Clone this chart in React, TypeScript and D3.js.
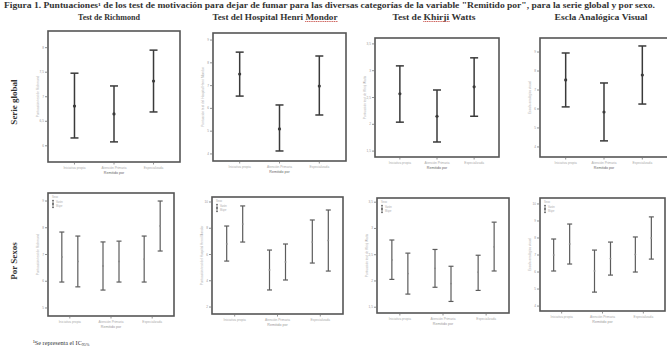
import React, { useLayoutEffect, useRef, useState } from "react";
import * as d3 from "d3";

// Categorías de la variable "Remitido por" y de sexo
const categorias = ["Iniciativa propia", "Atención Primaria", "Especializada"];
const sexos = ["Varón", "Mujer"];

// IC95% por categoría: [límite inferior, media, límite superior]
const richmondGlobal = [[6.16, 6.81, 7.48], [6.08, 6.65, 7.22], [6.69, 7.32, 7.95]];
const mondorGlobal = [[6.54, 7.51, 8.47], [4.13, 5.1, 6.15], [5.71, 6.98, 8.3]];
const khirjiGlobal = [[2.04, 2.57, 3.09], [1.67, 2.15, 2.64], [2.15, 2.7, 3.24]];
const eavGlobal = [[6.11, 7.53, 8.95], [4.32, 5.84, 7.37], [6.26, 7.79, 9.32]];

const richmondVarones = [[5.97, 6.91, 7.84], [5.67, 6.57, 7.47], [5.97, 6.83, 7.69]];
const richmondMujeres = [[5.79, 6.74, 7.69], [5.97, 6.74, 7.5], [7.13, 8.07, 9.0]];
const mondorVarones = [[5.5, 6.8, 8.17], [3.3, 4.82, 6.34], [5.35, 6.95, 8.63]];
const mondorMujeres = [[6.95, 8.32, 9.7], [4.06, 5.43, 6.8], [4.74, 7.07, 9.39]];
const khirjiVarones = [[2.03, 2.4, 2.78], [1.88, 2.24, 2.6], [1.82, 2.17, 2.49]];
const khirjiMujeres = [[1.75, 2.14, 2.53], [1.61, 1.95, 2.28], [2.19, 2.65, 3.12]];
const eavVarones = [[6.06, 7.0, 7.94], [4.82, 6.06, 7.29], [6.0, 7.03, 8.06]];
const eavMujeres = [[6.47, 7.65, 8.82], [5.82, 6.79, 7.76], [6.76, 8.0, 9.24]];

// Dominio y marcas del eje Y de cada gráfico
const richmondDominio = [5.67, 8.34];
const richmondTicks = [6, 6.5, 7, 7.5, 8];
const mondorDominio = [3.69, 9.31];
const mondorTicks = [4, 5, 6, 7, 8, 9];
const khirjiDominio = [1.39, 3.61];
const khirjiTicks = [1.5, 2, 2.5, 3, 3.5];
const eavDominio = [3.47, 9.74];
const eavTicks = [4, 5, 6, 7, 8, 9];

const richmondSexoDominio = [4.7, 9.3];
const richmondSexoTicks = [5, 6, 7, 8, 9];
const mondorSexoDominio = [1.47, 10.38];
const mondorSexoTicks = [2, 4, 6, 8, 10];
const khirjiSexoDominio = [1.39, 3.58];
const khirjiSexoTicks = [1.5, 2, 2.5, 3, 3.5];
const eavSexoDominio = [3.71, 10.35];
const eavSexoTicks = [4, 5, 6, 7, 8, 9, 10];

const titulosTest = ["Test de Richmond", "Test del Hospital Henri Mondor", "Test de Khirji Watts", "Escla Analógica Visual"];
const palabrasSubrayadas = ["Mondor", "Khirji"];
const titulosEjeY = [
  "Puntuación test de Richmond",
  "Puntuación test del Hospital Henri Mondor",
  "Puntuación test de Khirji Watts",
  "Escala analógica visual",
];
const tituloEjeX = "Remitido por";
const tituloFigura =
  "Figura 1. Puntuaciones¹ de los test de motivación para dejar de fumar para las diversas categorías de la variable \"Remitido por\", para la serie global y por sexo.";

const SERIF = "'Liberation Serif', 'Times New Roman', serif";
const SANS = "'Liberation Sans', Arial, sans-serif";
const fmt = (v: number) => d3.format(v % 1 === 0 ? ".0f" : ".1f")(v).replace(".", ",");

type Caja = { x: number; y: number; w: number; h: number };

function EjesYMarco({ caja, y, ticks, tituloY }: { caja: Caja; y: d3.ScaleLinear<number, number>; ticks: number[]; tituloY: string }) {
  const { x: x0, y: y0, w, h } = caja;
  return (
    <g>
      <rect x={x0} y={y0} width={w} height={h} fill="#fff" stroke="#555" strokeWidth={1.6} />
      {ticks.map((t) => (
        <g key={t}>
          <line x1={x0 - 3} x2={x0} y1={y(t)} y2={y(t)} stroke="#777" strokeWidth={0.8} />
          <text x={x0 - 4} y={y(t) + 1} fontSize={3.2} fill="#999" textAnchor="end" fontFamily={SANS}>
            {fmt(t)}
          </text>
        </g>
      ))}
      <text
        transform={`translate(${x0 - 9},${y0 + h / 2}) rotate(-90)`}
        fontSize={3.2}
        fill="#aaa"
        textAnchor="middle"
        fontFamily={SANS}
      >
        {tituloY}
      </text>
    </g>
  );
}

function EjeX({ caja, xPos, oscuro }: { caja: Caja; xPos: (c: string) => number; oscuro?: boolean }) {
  const base = caja.y + caja.h;
  return (
    <g>
      {categorias.map((c) => (
        <g key={c}>
          <line x1={xPos(c)} x2={xPos(c)} y1={base} y2={base + 2.5} stroke="#777" strokeWidth={0.8} />
          <text x={xPos(c)} y={base + 6.5} fontSize={3.2} fill="#aaa" textAnchor="middle" fontFamily={SANS}>
            {c}
          </text>
        </g>
      ))}
      <text x={caja.x + caja.w / 2} y={base + 11.5} fontSize={3.6} fill={oscuro ? "#666" : "#999"} textAnchor="middle" fontFamily={SANS}>
        {tituloEjeX}
      </text>
    </g>
  );
}

function PanelGlobal({ caja, datos, dominio, ticks, tituloY }: { caja: Caja; datos: number[][]; dominio: number[]; ticks: number[]; tituloY: string }) {
  const y = d3.scaleLinear().domain(dominio).range([caja.y + caja.h, caja.y]);
  const x = d3.scalePoint<string>().domain(categorias).range([caja.x, caja.x + caja.w]).padding(0.67);
  return (
    <g>
      <EjesYMarco caja={caja} y={y} ticks={ticks} tituloY={tituloY} />
      {datos.map(([inf, media, sup], i) => {
        const cx = x(categorias[i])!;
        return (
          <g key={i} stroke="#3a3a3a" strokeWidth={1.5}>
            <line x1={cx} x2={cx} y1={y(inf)} y2={y(sup)} />
            <line x1={cx - 4} x2={cx + 4} y1={y(sup)} y2={y(sup)} />
            <line x1={cx - 4} x2={cx + 4} y1={y(inf)} y2={y(inf)} />
            <circle cx={cx} cy={y(media)} r={1.6} fill="#3a3a3a" stroke="none" />
          </g>
        );
      })}
      <EjeX caja={caja} xPos={(c) => x(c)!} oscuro />
    </g>
  );
}

function PanelSexo({ caja, varones, mujeres, dominio, ticks, tituloY }: { caja: Caja; varones: number[][]; mujeres: number[][]; dominio: number[]; ticks: number[]; tituloY: string }) {
  const y = d3.scaleLinear().domain(dominio).range([caja.y + caja.h, caja.y]);
  const x = d3.scalePoint<string>().domain(categorias).range([caja.x, caja.x + caja.w]).padding(0.53);
  const xs = d3.scalePoint<string>().domain(sexos).range([-8, 8]);
  const series = [varones, mujeres];
  return (
    <g>
      <EjesYMarco caja={caja} y={y} ticks={ticks} tituloY={tituloY} />
      {series.map((serie, s) =>
        serie.map(([inf, media, sup], i) => {
          const cx = x(categorias[i])! + xs(sexos[s])!;
          return (
            <g key={`${s}-${i}`} stroke="#5c5c5c" strokeWidth={1.2}>
              <line x1={cx} x2={cx} y1={y(inf)} y2={y(sup)} />
              <line x1={cx - 2.5} x2={cx + 2.5} y1={y(sup)} y2={y(sup)} />
              <line x1={cx - 2.5} x2={cx + 2.5} y1={y(inf)} y2={y(inf)} />
              <circle cx={cx} cy={y(media)} r={0.9} fill="#888" stroke="none" />
            </g>
          );
        })
      )}
      {/* leyenda de sexo */}
      <g fontFamily={SANS} fontSize={2.6} fill="#aaa">
        <text x={caja.x + 4} y={caja.y + 5}>Sexo</text>
        {sexos.map((s, k) => {
          const ly = caja.y + 9 + k * 4;
          return (
            <g key={s}>
              <g stroke="#666" strokeWidth={0.9}>
                <line x1={caja.x + 5} x2={caja.x + 5} y1={ly - 1.6} y2={ly + 1.6} />
                <line x1={caja.x + 4} x2={caja.x + 6} y1={ly - 1.6} y2={ly - 1.6} />
                <line x1={caja.x + 4} x2={caja.x + 6} y1={ly + 1.6} y2={ly + 1.6} />
              </g>
              <text x={caja.x + 8} y={ly + 1}>{s}</text>
            </g>
          );
        })}
      </g>
      <EjeX caja={caja} xPos={(c) => x(c)!} />
    </g>
  );
}

// Título de columna con subrayado ondulado rojo bajo las palabras marcadas
function TituloColumna({ texto, cx, ancho }: { texto: string; cx: number; ancho: number }) {
  const refs = useRef<(SVGTSpanElement | null)[]>([]);
  const [marcas, setMarcas] = useState<{ x: number; w: number; y: number }[]>([]);
  const partes = texto.split(" ");
  useLayoutEffect(() => {
    const m: { x: number; w: number; y: number }[] = [];
    partes.forEach((p, k) => {
      const el = refs.current[k];
      if (el && palabrasSubrayadas.includes(p)) {
        const b = el.getBBox();
        m.push({ x: b.x + (k > 0 ? 2 : 0), w: b.width - (k > 0 ? 2 : 0), y: b.y + b.height });
      }
    });
    setMarcas(m);
  }, [texto]);
  return (
    <g>
      <text
        x={cx}
        y={20}
        fontSize={8}
        fontWeight="bold"
        fontFamily={SERIF}
        fill="#333"
        textAnchor="middle"
        textLength={ancho}
        lengthAdjust="spacingAndGlyphs"
      >
        {partes.map((p, k) => (
          <tspan key={k} ref={(el) => { refs.current[k] = el; }}>
            {k > 0 ? " " : ""}
            {p}
          </tspan>
        ))}
      </text>
      {marcas.map((m, i) => (
        <line key={i} x1={m.x} x2={m.x + m.w} y1={m.y - 0.5} y2={m.y - 0.5} stroke="#c8504a" strokeWidth={0.9} strokeDasharray="1.2 0.6" />
      ))}
    </g>
  );
}

export default function App() {
  const cajasGlobal: Caja[] = [
    { x: 48, y: 31, w: 132, h: 131 },
    { x: 213, y: 33, w: 133, h: 128 },
    { x: 375, y: 38, w: 124, h: 119 },
    { x: 540, y: 38, w: 128, h: 119 },
  ];
  const cajasSexo: Caja[] = [
    { x: 48, y: 193, w: 126, h: 123 },
    { x: 212, y: 197, w: 131, h: 117 },
    { x: 377, y: 198, w: 132, h: 115 },
    { x: 540, y: 198, w: 125, h: 113 },
  ];
  const globales = [
    { datos: richmondGlobal, dominio: richmondDominio, ticks: richmondTicks },
    { datos: mondorGlobal, dominio: mondorDominio, ticks: mondorTicks },
    { datos: khirjiGlobal, dominio: khirjiDominio, ticks: khirjiTicks },
    { datos: eavGlobal, dominio: eavDominio, ticks: eavTicks },
  ];
  const porSexo = [
    { v: richmondVarones, m: richmondMujeres, dominio: richmondSexoDominio, ticks: richmondSexoTicks },
    { v: mondorVarones, m: mondorMujeres, dominio: mondorSexoDominio, ticks: mondorSexoTicks },
    { v: khirjiVarones, m: khirjiMujeres, dominio: khirjiSexoDominio, ticks: khirjiSexoTicks },
    { v: eavVarones, m: eavMujeres, dominio: eavSexoDominio, ticks: eavSexoTicks },
  ];
  const centrosTitulo = [109, 275, 434, 601];
  const anchosTitulo = [62, 125, 83, 93];

  return (
    <svg width={667} height={350} style={{ position: "absolute", left: 0, top: 0, background: "#fff" }}>
      <rect width={667} height={350} fill="#fff" />
      <text x={4} y={8} fontSize={7.2} fontWeight="bold" fontFamily={SERIF} fill="#333" textLength={651} lengthAdjust="spacingAndGlyphs">
        {tituloFigura}
      </text>
      {titulosTest.map((t, i) => (
        <TituloColumna key={t} texto={t} cx={centrosTitulo[i]} ancho={anchosTitulo[i]} />
      ))}
      <text transform="translate(17,102) rotate(-90)" fontSize={9} fontWeight="bold" fontFamily={SERIF} fill="#333" textAnchor="middle">
        Serie global
      </text>
      <text transform="translate(17,261) rotate(-90)" fontSize={9} fontWeight="bold" fontFamily={SERIF} fill="#333" textAnchor="middle">
        Por Sexos
      </text>
      {globales.map((g, i) => (
        <PanelGlobal key={i} caja={cajasGlobal[i]} datos={g.datos} dominio={g.dominio} ticks={g.ticks} tituloY={titulosEjeY[i]} />
      ))}
      {porSexo.map((g, i) => (
        <PanelSexo key={i} caja={cajasSexo[i]} varones={g.v} mujeres={g.m} dominio={g.dominio} ticks={g.ticks} tituloY={titulosEjeY[i]} />
      ))}
      <text x={33} y={345} fontSize={6.2} fontFamily={SERIF} fill="#333">
        ¹Se representa el IC
        <tspan fontSize={4.2} dy={1.2}>95%</tspan>
      </text>
    </svg>
  );
}
